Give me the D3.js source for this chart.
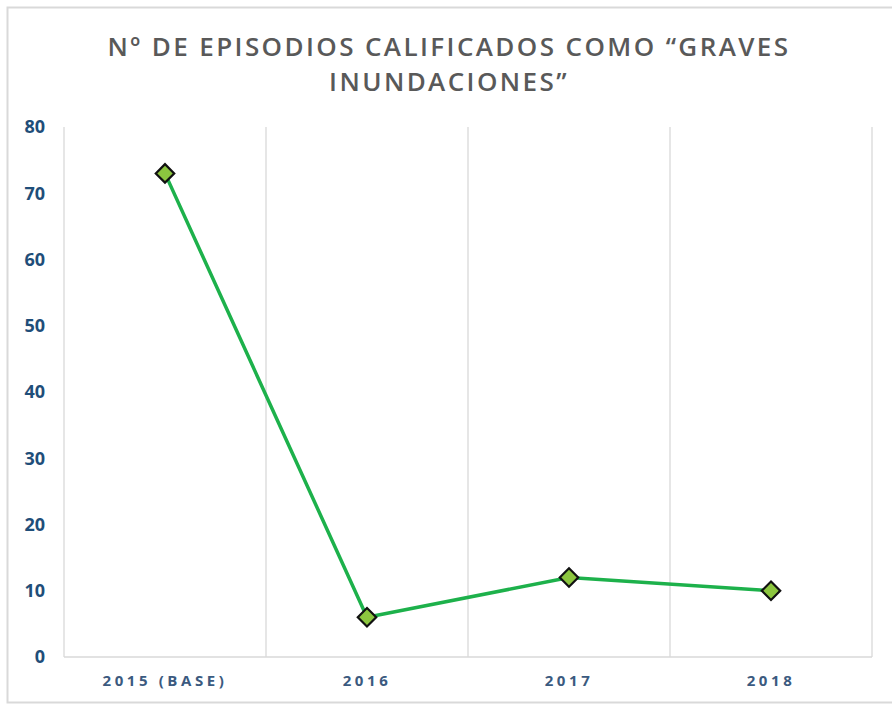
<!DOCTYPE html>
<html>
<head>
<meta charset="utf-8">
<script src="https://cdn.jsdelivr.net/npm/d3@7"></script>
<style>
  body { margin: 0; background: #fff; }
</style>
</head>
<body>
<div id="chart"></div>
<script>
const years = ["2015 (BASE)", "2016", "2017", "2018"];
const episodes = [73, 6, 12, 10];
const yTicks = [0, 10, 20, 30, 40, 50, 60, 70, 80];
const titleLines = ["Nº DE EPISODIOS CALIFICADOS COMO “GRAVES", "INUNDACIONES”"];

const W = 892, H = 706;
const margin = { top: 127, right: 20, bottom: 49, left: 64 };
const plotW = 872 - margin.left, plotH = 657 - margin.top;

const svg = d3.select("#chart").append("svg")
  .attr("width", W)
  .attr("height", H);

// outer frame (only left/top/bottom edges visible)
svg.append("rect")
  .attr("x", 7.5).attr("y", 7.5)
  .attr("width", W + 10).attr("height", 695)
  .attr("fill", "none")
  .attr("stroke", "#d9d9d9")
  .attr("stroke-width", 2);

svg.append("g").selectAll("text")
  .data(titleLines)
  .join("text")
  .attr("x", 449)
  .attr("y", (d, i) => 56 + i * 35)
  .attr("text-anchor", "middle")
  .style("font-family", "'Open Sans', sans-serif")
  .style("font-weight", 600)
  .style("font-size", "26px")
  .style("letter-spacing", "2.4px")
  .style("fill", "#595959")
  .text(d => d);

const g = svg.append("g")
  .attr("transform", `translate(${margin.left},${margin.top})`);

const x = d3.scaleBand().domain(years).range([0, plotW]);
const y = d3.scaleLinear().domain([0, 80]).range([plotH, 0]);

// vertical gridlines at category boundaries
const bounds = years.map(d => x(d)).concat([plotW]);
g.append("g").selectAll("line")
  .data(bounds)
  .join("line")
  .attr("x1", d => d).attr("x2", d => d)
  .attr("y1", 0).attr("y2", plotH)
  .attr("stroke", "#d9d9d9")
  .attr("stroke-width", 1.3);

// baseline
g.append("line")
  .attr("x1", 0).attr("x2", plotW)
  .attr("y1", plotH).attr("y2", plotH)
  .attr("stroke", "#d9d9d9")
  .attr("stroke-width", 1.5);

// y axis labels
const yAxis = g.append("g")
  .call(d3.axisLeft(y).tickValues(yTicks).tickSize(0).tickPadding(19));
yAxis.select(".domain").remove();
yAxis.selectAll("text")
  .style("font-family", "'Open Sans', sans-serif")
  .style("font-weight", 700)
  .style("font-size", "18px")
  .style("fill", "#1f4e79");

// x axis labels
const xAxis = g.append("g")
  .attr("transform", `translate(0,${plotH})`)
  .call(d3.axisBottom(x).tickSize(0).tickPadding(18));
xAxis.select(".domain").remove();
xAxis.selectAll("text")
  .style("font-family", "'Open Sans', sans-serif")
  .style("font-weight", 700)
  .style("font-size", "15px")
  .style("letter-spacing", "3.6px")
  .style("fill", "#3b5a7f");

const cx = d => x(d) + x.bandwidth() / 2;

const line = d3.line()
  .x((d, i) => cx(years[i]))
  .y(d => y(d));

g.append("path")
  .datum(episodes)
  .attr("d", line)
  .attr("fill", "none")
  .attr("stroke", "#1db14b")
  .attr("stroke-width", 3.5);

g.append("g").selectAll("path")
  .data(episodes)
  .join("path")
  .attr("d", d3.symbol(d3.symbolSquare, 170))
  .attr("transform", (d, i) => `translate(${cx(years[i])},${y(d)}) rotate(45)`)
  .attr("fill", "#8cc63f")
  .attr("stroke", "#111")
  .attr("stroke-width", 2.2);
</script>
</body>
</html>
